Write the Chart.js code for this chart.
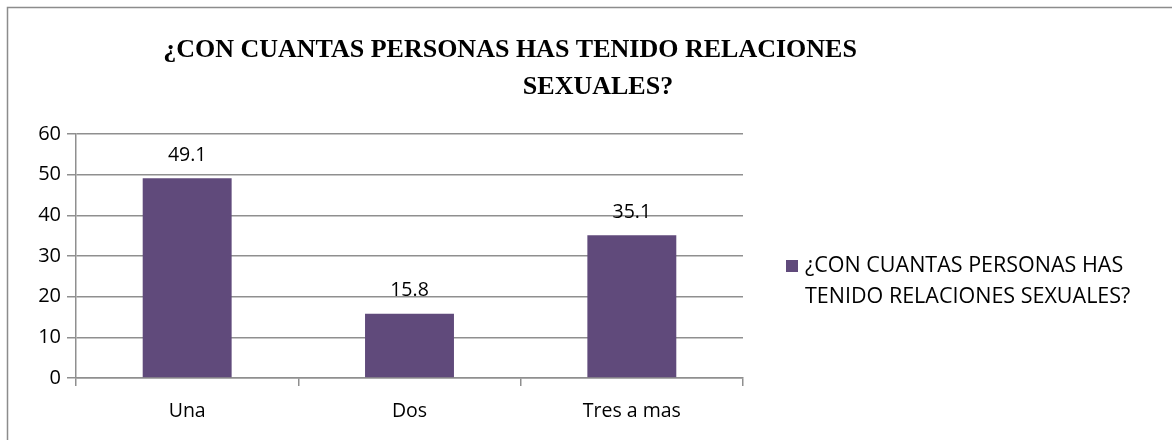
<!DOCTYPE html>
<html>
<head>
<meta charset="utf-8">
<script src="https://cdn.jsdelivr.net/npm/chart.js@4.4.0/dist/chart.umd.min.js"></script>
<style>
  html, body { margin: 0; padding: 0; background: #fff; }
  #wrap { width: 1172px; height: 440px; position: relative; }
</style>
</head>
<body>
<div id="wrap"><canvas id="chart" width="1172" height="440"></canvas></div>
<script>
// data
const categories = ['Una', 'Dos', 'Tres a mas'];
const values = [49.1, 15.8, 35.1];
const seriesName = '¿CON CUANTAS PERSONAS HAS TENIDO RELACIONES SEXUALES?';
const titleLines = ['¿CON CUANTAS PERSONAS HAS TENIDO RELACIONES', 'SEXUALES?'];
const legendLines = ['¿CON CUANTAS PERSONAS HAS', 'TENIDO RELACIONES SEXUALES?'];
const yTicks = [0, 10, 20, 30, 40, 50, 60];

const barColor = '#604A7B';
const gridColor = '#8f8f8f';
const fontFamily = '"Open Sans", Lato, sans-serif';

// frame + title + legend drawn by hand, Excel style
const decorPlugin = {
    id: 'decor',
    beforeDraw(chart) {
        const ctx = chart.ctx;
        ctx.save();
        ctx.fillStyle = '#fff';
        ctx.fillRect(0, 0, chart.width, chart.height);
        ctx.strokeStyle = '#8c8c8c';
        ctx.lineWidth = 1.5;
        ctx.beginPath();
        ctx.moveTo(7.5, chart.height);
        ctx.lineTo(7.5, 7.5);
        ctx.lineTo(chart.width, 7.5);
        ctx.stroke();
        ctx.restore();
    },
    afterDraw(chart) {
        const ctx = chart.ctx;
        ctx.save();
        // title
        ctx.fillStyle = '#000';
        ctx.font = 'bold 26px "Liberation Serif", "Times New Roman", serif';
        ctx.textAlign = 'center';
        ctx.textBaseline = 'middle';
        ctx.fillText(titleLines[0], 510, 50);
        ctx.fillText(titleLines[1], 598, 87);
        // legend
        ctx.fillStyle = barColor;
        ctx.fillRect(786, 260, 12, 12);
        ctx.fillStyle = '#000';
        ctx.font = '21.5px ' + fontFamily;
        ctx.textAlign = 'left';
        ctx.fillText(legendLines[0], 805, 266);
        ctx.fillText(legendLines[1], 805, 297);
        ctx.restore();
    },
    afterDatasetsDraw(chart) {
        const ctx = chart.ctx;
        const meta = chart.getDatasetMeta(0);
        ctx.save();
        ctx.fillStyle = '#000';
        ctx.font = '19.5px ' + fontFamily;
        ctx.textAlign = 'center';
        ctx.textBaseline = 'middle';
        meta.data.forEach((bar, i) => {
            ctx.fillText(values[i].toFixed(1), bar.x, bar.y - 23);
        });
        ctx.restore();
    }
};

new Chart(document.getElementById('chart'), {
    type: 'bar',
    data: {
        labels: categories,
        datasets: [{
            label: seriesName,
            data: values,
            backgroundColor: barColor,
            borderWidth: 0,
            categoryPercentage: 1.0,
            barPercentage: 0.4
        }]
    },
    options: {
        responsive: false,
        animation: false,
        layout: { padding: { top: 134, right: 429, left: 0, bottom: 0 } },
        plugins: {
            legend: { display: false },
            title: { display: false },
            tooltip: { enabled: false }
        },
        scales: {
            y: {
                min: 0,
                max: 60,
                afterFit(scale) { scale.width = 76; },
                afterBuildTicks(scale) { scale.ticks = yTicks.map(v => ({ value: v })); },
                ticks: {
                    color: '#000',
                    font: { family: fontFamily, size: 20 },
                    padding: 6
                },
                grid: {
                    color: gridColor,
                    lineWidth: 1.5,
                    tickLength: 9,
                    drawTicks: true
                },
                border: { color: gridColor, width: 1.5 }
            },
            x: {
                afterFit(scale) { scale.height = 62; },
                ticks: {
                    color: '#000',
                    font: { family: fontFamily, size: 19.5 },
                    padding: 14
                },
                grid: {
                    offset: true,
                    drawOnChartArea: false,
                    color: gridColor,
                    lineWidth: 1.5,
                    tickLength: 8
                },
                border: { color: gridColor, width: 1.5 }
            }
        }
    },
    plugins: [decorPlugin]
});
</script>
</body>
</html>
